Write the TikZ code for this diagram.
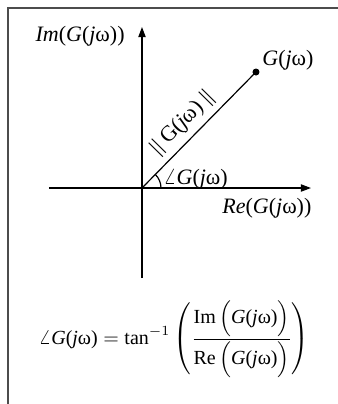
\documentclass[tikz,border=0pt]{standalone}
\usepackage{fontspec}
\setmainfont{Liberation Serif}
\usetikzlibrary{arrows.meta}
\newcommand{\Gjw}{\textit{G}(\textit{j}\textup{ω})}
\begin{document}
\begin{tikzpicture}[x=0.5pt,y=-0.5pt,
  lbl/.style={inner sep=0pt, font=\fontsize{11}{13}\selectfont},
  axisline/.style={line width=0.6pt, -{Triangle[length=5pt,width=3.6pt]}},
  frameline/.style={line width=1pt, black!70}]
\useasboundingbox (0,0) rectangle (338,404);
\coordinate (fb) at (8.5,404);
\coordinate (fc) at (8.5,7.5);
\coordinate (fr) at (338,7.5);
\draw[frameline] (fb) -- (fc) -- (fr);
\coordinate (O) at (142,188);
\coordinate (xl) at (49,188);
\coordinate (xr) at (311,188);
\coordinate (yb) at (142,278);
\coordinate (yt) at (142,27);
\draw[axisline] (xl) -- (xr);
\draw[axisline] (yb) -- (yt);
\node[circle, fill, inner sep=0pt, minimum size=3.5pt] (P) at (256,72) {};
\draw[line width=0.6pt] (O) -- (P.center) node[pos=0.46, above=3pt, sloped, lbl] (mag) {|| G(\textit{j}\textup{ω}) ||};
\draw[line width=0.6pt] (O) ++(19,0) arc[start angle=0, end angle=-45.5, radius=19];
\node[lbl, anchor=base east] (im) at (125,41) {\textit{Im}(\Gjw)};
\node[lbl, anchor=base west] (g) at (262,65) {\Gjw};
\node[lbl, anchor=base west] (re) at (222,213) {\textit{Re}(\Gjw)};
\node[lbl, anchor=base west] (ang) at (163,184) {$\angle$\Gjw};
\node[lbl] (eq) at (174,339) {\fontsize{10}{12}\selectfont
  $\displaystyle \angle\mbox{\Gjw} = \mbox{tan}^{-1}\left(\frac{\mbox{Im}\,\Bigl(\mbox{\Gjw}\Bigr)}{\mbox{Re}\,\Bigl(\mbox{\Gjw}\Bigr)}\right)$};
\end{tikzpicture}
\end{document}
